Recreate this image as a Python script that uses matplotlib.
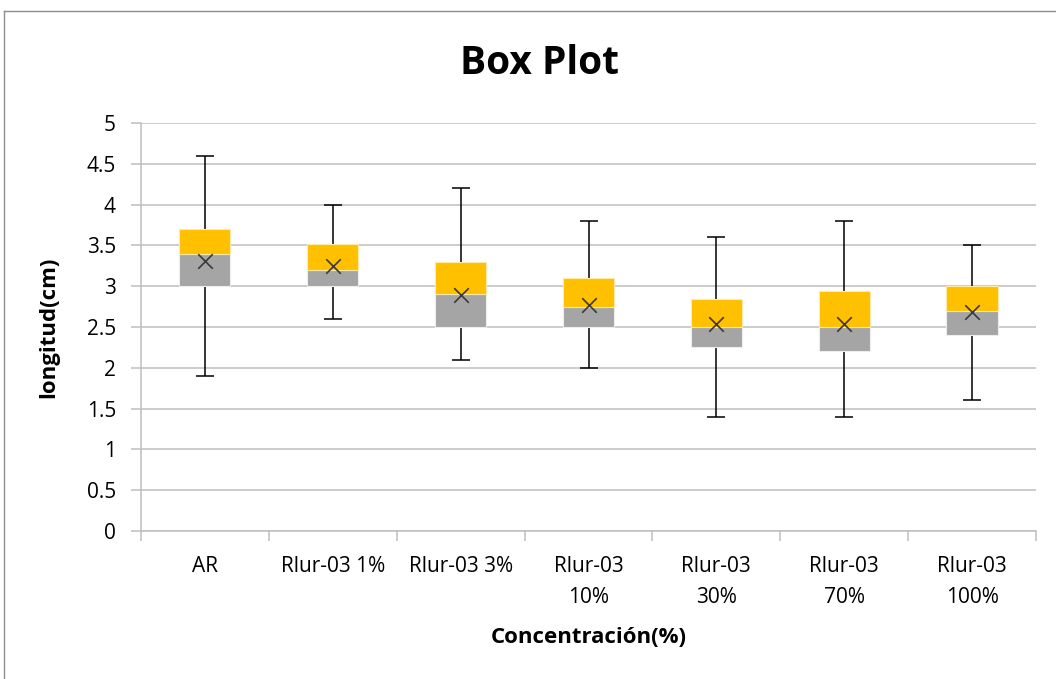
import matplotlib
matplotlib.use("Agg")
import matplotlib.pyplot as plt
import numpy as np

# Box-plot statistics per concentration (length in cm)
categories = ["AR", "Rlur-03 1%", "Rlur-03 3%", "Rlur-03\n10%",
              "Rlur-03\n30%", "Rlur-03\n70%", "Rlur-03\n100%"]
minimum = [1.9, 2.6, 2.1, 2.0, 1.4, 1.4, 1.6]
q1 = [3.0, 3.0, 2.5, 2.5, 2.25, 2.2, 2.4]
median = [3.4, 3.2, 2.9, 2.75, 2.5, 2.5, 2.7]
q3 = [3.7, 3.52, 3.3, 3.1, 2.84, 2.94, 3.0]
maximum = [4.6, 4.0, 4.2, 3.8, 3.6, 3.8, 3.5]
mean = [3.31, 3.25, 2.89, 2.77, 2.54, 2.54, 2.68]

plt.rcParams['font.family'] = ['Open Sans', 'DejaVu Sans']

fig = plt.figure(figsize=(10.56, 6.79), dpi=100)
ax = fig.add_axes([141 / 1056, 1 - 531 / 679, (1036 - 141) / 1056, (531 - 123) / 679])

x = np.arange(len(categories))
q1a, meda, q3a = np.array(q1), np.array(median), np.array(q3)
mina, maxa = np.array(minimum), np.array(maximum)
w = 0.4

# whiskers from box edges to the extremes, with end caps
ax.vlines(x, q3a, maxa, color='black', linewidth=1.1, zorder=2)
ax.vlines(x, mina, q1a, color='black', linewidth=1.1, zorder=2)
ax.plot(x, maxa, linestyle='none', marker='_', markersize=13,
        markeredgewidth=1.1, color='black', zorder=2)
ax.plot(x, mina, linestyle='none', marker='_', markersize=13,
        markeredgewidth=1.1, color='black', zorder=2)

# lower box (Q1 to median) and upper box (median to Q3)
ax.bar(x, meda - q1a, bottom=q1a, width=w, color='#A5A5A5',
       edgecolor='#EDEDED', linewidth=0.8, zorder=3)
ax.bar(x, q3a - meda, bottom=meda, width=w, color='#FFC000',
       edgecolor='#FFE9A6', linewidth=0.8, zorder=3)

# mean marker
ax.scatter(x, mean, marker='x', s=110, color='#3A3A3A', linewidths=1.2, zorder=4)

ax.set_ylim(0, 5)
ax.set_xlim(-0.5, len(categories) - 0.5)
ax.set_yticks(np.arange(0, 5.01, 0.5))
ax.set_yticklabels(["0", "0.5", "1", "1.5", "2", "2.5", "3", "3.5", "4", "4.5", "5"])
ax.yaxis.grid(True, color='#BFBFBF', linewidth=1.1)
ax.set_axisbelow(True)

ax.set_xticks(x)
ax.set_xticklabels(categories, fontsize=15, linespacing=1.6)
ax.set_xticks(np.arange(-0.5, len(categories), 1.0), minor=True)
ax.tick_params(axis='x', which='major', length=0, pad=18)
ax.tick_params(axis='x', which='minor', length=7, color='#BFBFBF', width=1.1)
ax.tick_params(axis='y', length=7, color='#BFBFBF', width=1.1, labelsize=15, pad=11)

for side in ['top', 'right']:
    ax.spines[side].set_visible(False)
for side in ['left', 'bottom']:
    ax.spines[side].set_color('#BFBFBF')
    ax.spines[side].set_linewidth(1.1)

ax.set_ylabel("longitud(cm)", fontsize=16, fontweight='bold', labelpad=20)
ax.set_xlabel("Concentración(%)", fontsize=16, fontweight='bold', labelpad=14)
fig.text(540 / 1056, 1 - 64 / 679, "Box Plot", fontsize=28, fontweight='bold',
         ha='center', va='center')

# chart-area frame
fig.add_artist(plt.Line2D([4 / 1056, 1], [1 - 11 / 679] * 2, transform=fig.transFigure,
                          color='#8C8C8C', linewidth=1))
fig.add_artist(plt.Line2D([4 / 1056] * 2, [0, 1 - 11 / 679], transform=fig.transFigure,
                          color='#8C8C8C', linewidth=1))

fig.savefig("out.png", dpi=100)
